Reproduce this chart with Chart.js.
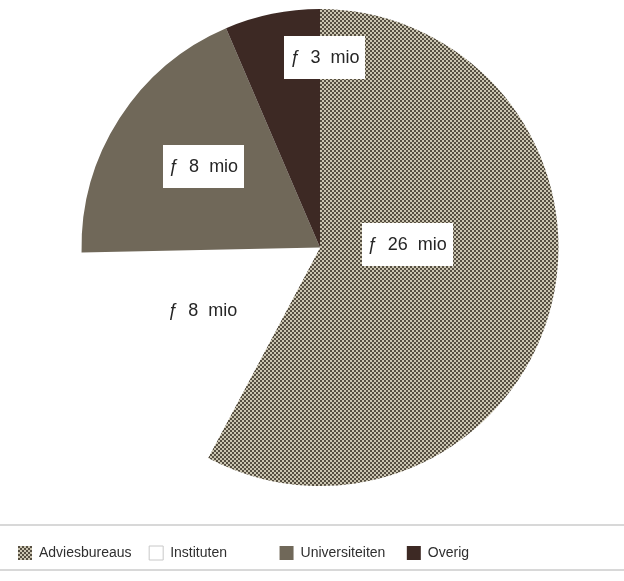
<!DOCTYPE html>
<html><head><meta charset="utf-8">
<script src="https://cdn.jsdelivr.net/npm/chart.js@4/dist/chart.umd.min.js"></script>
<style>html,body{margin:0;padding:0;background:#fff}canvas{display:block}</style>
</head><body>
<canvas id="c" width="624" height="581"></canvas>
<script>
// ---- data ----
const categories = ['Adviesbureaus', 'Instituten', 'Universiteiten', 'Overig'];
const amounts = [26, 7.6, 8.5, 2.9];      // slice sizes as drawn (mln gulden)
const labelAmounts = [26, 8, 8, 3];       // amounts printed on the slices

// ---- label placement (angle from top, clockwise; fraction of radius) ----
const labelAngles = [87.4, 242.1, 304.9, 1.5];
const labelDistances = [0.366, 0.556, 0.595, 0.80];
// minimum legend text widths (column layout of the legend)
const legendColumnText = [106, 106, 102, 0];

const FONT = '"Liberation Sans", Arial, Helvetica, sans-serif';

// checker pattern for Adviesbureaus
function makePattern() {
  const t = document.createElement('canvas');
  t.width = 4; t.height = 4;
  const g = t.getContext('2d');
  g.fillStyle = '#cbc5b1'; g.fillRect(0, 0, 4, 4);
  g.fillStyle = '#554e41'; g.fillRect(0, 0, 2, 2); g.fillRect(2, 2, 2, 2);
  return g.createPattern(t, 'repeat');
}
const checker = makePattern();
const sliceColors = [checker, '#ffffff', '#706859', '#3d2924'];

const sliceLabels = {
  id: 'sliceLabels',
  afterDatasetsDraw(chart) {
    const ctx = chart.ctx;
    const arcs = chart.getDatasetMeta(0).data;
    ctx.save();
    ctx.font = '18px ' + FONT;
    ctx.textAlign = 'center';
    ctx.textBaseline = 'middle';
    arcs.forEach((arc, i) => {
      const a = labelAngles[i] * Math.PI / 180;
      const r = arc.outerRadius * labelDistances[i];
      const x = arc.x + r * Math.sin(a);
      const y = arc.y - r * Math.cos(a);
      const text = 'ƒ  ' + labelAmounts[i] + '  mio';
      const w = ctx.measureText(text).width + 12;
      ctx.fillStyle = '#ffffff';
      ctx.fillRect(Math.round(x - w / 2), Math.round(y - 21), Math.round(w), 43);
      ctx.fillStyle = '#262626';
      ctx.fillText(text, x, y + 1);
    });
    ctx.restore();
  }
};

const legendRules = {
  id: 'legendRules',
  afterDraw(chart) {
    const lg = chart.legend;
    const ctx = chart.ctx;
    ctx.save();
    ctx.strokeStyle = '#d8d8d8';
    ctx.lineWidth = 2;
    [lg.bottom - 45, lg.bottom].forEach(y => {
      ctx.beginPath();
      ctx.moveTo(0, y);
      ctx.lineTo(chart.width, y);
      ctx.stroke();
    });
    ctx.restore();
  }
};

new Chart(document.getElementById('c'), {
  type: 'pie',
  data: {
    labels: categories,
    datasets: [{
      data: amounts,
      backgroundColor: sliceColors,
      borderWidth: 0
    }]
  },
  options: {
    responsive: false,
    animation: false,
    devicePixelRatio: 1,
    layout: { padding: { top: 9, left: 16, right: 0, bottom: 11 } },
    plugins: {
      tooltip: { enabled: false },
      legend: {
        position: 'bottom',
        align: 'start',
        title: { display: true, text: '', font: { size: 10, lineHeight: 1 }, padding: { top: 48, bottom: 0 } },
        labels: {
          padding: 2,
          boxWidth: 14,
          boxHeight: 14,
          color: '#2f2f2f',
          font: { family: FONT, size: 14 },
          generateLabels(chart) {
            const items = Chart.overrides.pie.plugins.legend.labels.generateLabels(chart);
            const m = document.createElement('canvas').getContext('2d');
            m.font = '14px ' + FONT;
            items.forEach((it, i) => {
              let t = it.text;
              while (m.measureText(t).width < legendColumnText[i]) t += ' ';
              it.text = t;
              it.lineWidth = i === 1 ? 1 : 0;
              it.strokeStyle = '#c8c8c8';
            });
            return items;
          }
        }
      }
    }
  },
  plugins: [sliceLabels, legendRules]
});
</script>
</body></html>
